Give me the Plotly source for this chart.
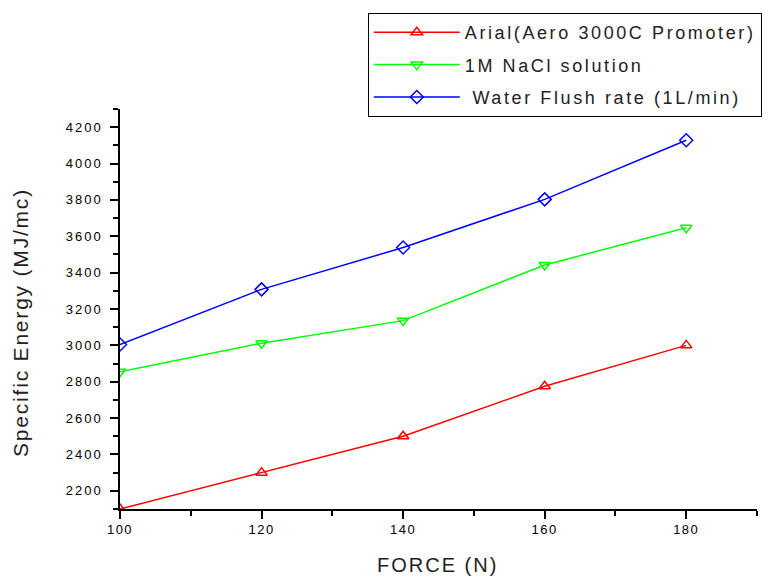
import plotly.graph_objects as go

force = [100, 120, 140, 160, 180]
arial_aero = [2100, 2300, 2500, 2775, 3000]
nacl_1m = [2855, 3012, 3136, 3442, 3647]
water_flush = [3005, 3308, 3538, 3803, 4128]

series_names = ["Arial(Aero 3000C Promoter)", "1M NaCl solution", " Water Flush rate (1L/min)"]
series_values = [arial_aero, nacl_1m, water_flush]
colors = ["#FF0000", "#00FF00", "#0000FF"]
symbols = ["triangle-up-open", "triangle-down-open", "diamond-open"]

x_ticks = [100, 120, 140, 160, 180]
y_ticks = [2200, 2400, 2600, 2800, 3000, 3200, 3400, 3600, 3800, 4000, 4200]


def spaced(t, px):
    return '<span style="letter-spacing:%spx">%s</span>' % (px, t)


fig = go.Figure()
for i, (name, vals, c, s) in enumerate(zip(series_names, series_values, colors, symbols)):
    fig.add_trace(go.Scatter(
        x=force, y=vals, name=spaced(name.replace(" ", "&nbsp;", 1) if name.startswith(" ") else name, 2.6),
        mode="lines+markers", legendgroup="g%d" % i,
        line=dict(color=c, width=1.5),
        marker=dict(symbol=s, size=10, color=c, line=dict(color=c, width=1.5)),
    ))

font_family = "Liberation Sans, Arial, sans-serif"

fig.update_layout(
    width=774, height=576,
    margin=dict(l=120, r=17, t=109, b=67),
    paper_bgcolor="white", plot_bgcolor="white",
    font=dict(family=font_family, color="black"),
    showlegend=True,
    legend=dict(
        x=0.389, xanchor="left", y=1.24, yanchor="top",
        bordercolor="black", borderwidth=1, bgcolor="white",
        font=dict(size=18, family=font_family, color="#222"),
        traceorder="grouped", tracegroupgap=6, itemwidth=86,
    ),
    xaxis=dict(
        range=[100, 190], showgrid=False, zeroline=False,
        showline=True, linecolor="black", linewidth=1.5,
        ticks="outside", tickcolor="black", ticklen=8, tickwidth=1.5,
        tickvals=x_ticks, ticktext=[spaced(str(v), 1.5) for v in x_ticks],
        ticklabelstandoff=0,
        tickfont=dict(size=13, color="black"),
        minor=dict(ticks="outside", dtick=10, ticklen=5, tickcolor="black", tickwidth=1.5),
    ),
    yaxis=dict(
        range=[2100, 4300], showgrid=False, zeroline=False,
        showline=True, linecolor="black", linewidth=1.5,
        ticks="outside", tickcolor="black", ticklen=8, tickwidth=1.5,
        tickvals=y_ticks, ticktext=[spaced(str(v), 2) for v in y_ticks],
        ticklabelstandoff=5,
        tickfont=dict(size=13, color="black"),
        minor=dict(ticks="outside", tick0=2100, dtick=100, ticklen=5, tickcolor="black", tickwidth=1.5),
    ),
    annotations=[
        dict(text=spaced("FORCE (N)", 2), xref="paper", yref="paper", x=0.498, y=-0.14,
             xanchor="center", yanchor="middle", showarrow=False,
             font=dict(size=20, color="#222")),
        dict(text=spaced("Specific Energy (MJ/mc)", 1.8), xref="paper", yref="paper", x=-0.157, y=0.4675,
             xanchor="center", yanchor="middle", showarrow=False, textangle=-90,
             font=dict(size=21, color="#222")),
    ],
)

fig.write_html("out.html")
